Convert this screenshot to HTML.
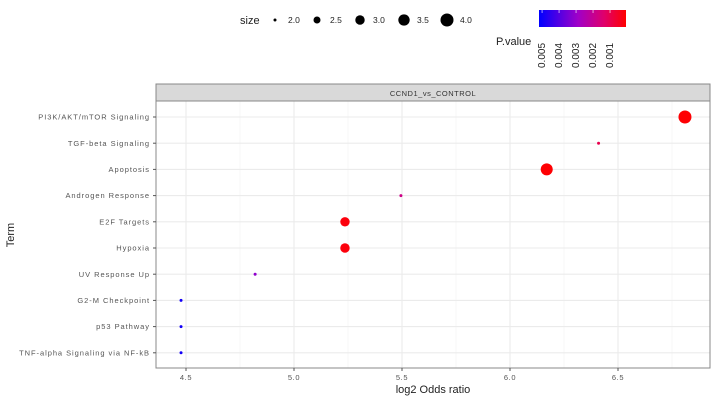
<!DOCTYPE html>
<html><head><meta charset="utf-8"><style>
body{margin:0;background:#fff;font-family:"Liberation Sans","DejaVu Sans",sans-serif}
svg text{font-family:"Liberation Sans","DejaVu Sans",sans-serif}
</style></head><body>
<svg id="chart" width="716" height="400">
<g>
<text x="240" y="24" font-size="11" fill="#222">size</text>
</g>
<g>
<defs><linearGradient id="grad" x1="0" x2="1" y1="0" y2="0">
<stop offset="0" stop-color="#0000ff"/><stop offset="0.45" stop-color="#a000c8"/><stop offset="0.75" stop-color="#e0006a"/><stop offset="1" stop-color="#ff0000"/></linearGradient></defs>
<rect x="539" y="10" width="87" height="17" fill="url(#grad)"/>
<text x="496" y="45" font-size="11" fill="#222">P.value</text>
</g>
<rect x="156" y="84" width="554" height="17" fill="#d9d9d9" stroke="#888" stroke-width="1"/>
<text x="433" y="96" font-size="7.5" text-anchor="middle" fill="#333" letter-spacing="0.5">CCND1_vs_CONTROL</text>
<g id="grid"></g>
<g id="points"></g>
<rect x="156" y="101" width="554" height="267" fill="none" stroke="#888" stroke-width="1"/>
<text x="433" y="393" font-size="11" text-anchor="middle" fill="#222">log2 Odds ratio</text>
<text transform="translate(14,235) rotate(-90)" font-size="11" text-anchor="middle" fill="#222">Term</text>
</svg>
<script>
const terms=["PI3K/AKT/mTOR  Signaling","TGF-beta Signaling","Apoptosis","Androgen Response","E2F Targets","Hypoxia","UV Response Up","G2-M Checkpoint","p53 Pathway","TNF-alpha Signaling via NF-kB"];
const oddsRatio=[6.81,6.41,6.17,5.495,5.236,5.236,4.82,4.477,4.477,4.477];
const sizes=[4,2,3.7,2,3,3,2,2,2,2];
const pvalues=[0.0001,0.0010,0.0001,0.0018,0.0002,0.0002,0.0031,0.0049,0.0049,0.0049];
const xTicks=[4.5,5.0,5.5,6.0,6.5];
const xTickLabels=["4.5","5.0","5.5","6.0","6.5"];
const sizeLegend=[2.0,2.5,3.0,3.5,4.0];
const pTicks=[0.005,0.004,0.003,0.002,0.001];
const NS="http://www.w3.org/2000/svg";
const svg=document.getElementById('chart');
const grid=document.getElementById('grid'),pts=document.getElementById('points');
const x=v=>186+(v-4.5)*216;
const y=i=>117+i*26.2;
const r=s=>Math.sqrt(2.25+(s-2)/2*40);
const px=p=>539+(0.00518-p)/0.00512*87;
function lerp(a,b,t){return a.map((v,i)=>Math.round(v+(b[i]-v)*t));}
function col(p){const t=Math.max(0,Math.min(1,(0.00518-p)/0.00512));
 const stops=[[0,[0,0,255]],[0.45,[160,0,200]],[0.75,[224,0,106]],[1,[255,0,0]]];
 for(let i=0;i<stops.length-1;i++){if(t<=stops[i+1][0]){const u=(t-stops[i][0])/(stops[i+1][0]-stops[i][0]);const c=lerp(stops[i][1],stops[i+1][1],u);return `rgb(${c})`;}}
 return 'rgb(255,0,0)';}
function mk(tag,attrs,parent){const e=document.createElementNS(NS,tag);for(const k in attrs)e.setAttribute(k,attrs[k]);parent.appendChild(e);return e;}
xTicks.forEach(v=>{const e=mk('line',{x1:x(v+0.25),x2:x(v+0.25),y1:101,y2:368,stroke:'#f2f2f2','stroke-width':0.6},grid);

});
xTicks.forEach((v,i)=>{const e=mk('line',{x1:x(v),x2:x(v),y1:101,y2:368,stroke:'#ebebeb','stroke-width':1.1},grid);


const tk=mk('line',{x1:x(v),x2:x(v),y1:368,y2:371,stroke:'#555'},svg);


const t=mk('text',{x:x(v),y:380,'font-size':7.5,'text-anchor':'middle',fill:'#555','letter-spacing':0.6},svg);t.textContent=xTickLabels[i];

});
terms.forEach((term,i)=>{const g=mk('line',{x1:156,x2:710,y1:y(i),y2:y(i),stroke:'#ebebeb','stroke-width':1.1},grid);


const tk=mk('line',{x1:153,x2:156,y1:y(i),y2:y(i),stroke:'#555'},svg);


const t=mk('text',{x:150,y:y(i)+2.6,'font-size':7.5,'text-anchor':'end',fill:'#555','letter-spacing':0.95},svg);t.textContent=term;


const c=mk('circle',{cx:x(oddsRatio[i]),cy:y(i),r:r(sizes[i]),fill:col(pvalues[i])},pts);

});
const sx=[275,317,360,404,447];
sizeLegend.forEach((s,i)=>{const c=mk('circle',{cx:sx[i],cy:20,r:r(s),fill:'#000'},svg);


const t=mk('text',{x:sx[i]+13,y:23,'font-size':8.5,fill:'#222'},svg);t.textContent=s.toFixed(1);

});
pTicks.forEach(p=>{const t=mk('text',{transform:`translate(${px(p)+3},68) rotate(-90)`,'font-size':10,fill:'#222'},svg);t.textContent=p.toFixed(3);


const l=mk('line',{x1:px(p),x2:px(p),y1:10,y2:13,stroke:'#fff','stroke-width':0.6},svg);

});
</script>
</body></html>
